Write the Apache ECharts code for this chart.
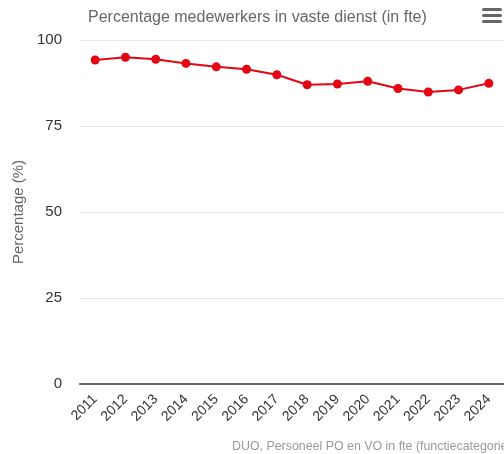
<!DOCTYPE html>
<html><head><meta charset="utf-8">
<script src="https://cdn.jsdelivr.net/npm/echarts@6/dist/echarts.min.js"></script>
<style>html,body{margin:0;padding:0;background:#fff}#c{width:504px;height:454px}</style>
</head><body><div id="c"></div>
<script>
const years = ['2011','2012','2013','2014','2015','2016','2017','2018','2019','2020','2021','2022','2023','2024'];
const values = [94.2, 95.0, 94.4, 93.2, 92.2, 91.5, 89.9, 87.0, 87.2, 88.0, 85.9, 84.9, 85.5, 87.4];
const yTicks = [0, 25, 50, 75, 100];
const chart = echarts.init(document.getElementById('c'));
const font = 'Helvetica, Arial, "Liberation Sans", sans-serif';
chart.setOption({
  animation: false,
  textStyle: {fontFamily: font},
  title: {text: 'Percentage medewerkers in vaste dienst (in fte)', left: 83, top: 5,
    textStyle: {fontSize: 16, fontWeight: 'normal', color: '#666', fontFamily: font}},
  grid: {left: 80, right: 0, top: 40, bottom: 70},
  xAxis: {type: 'category', data: years, boundaryGap: true,
    axisLine: {lineStyle: {color: '#666', width: 2}}, axisTick: {show: false},
    axisLabel: {rotate: 45, fontSize: 14, color: '#333', margin: 13, interval: 0, fontFamily: font}},
  yAxis: {type: 'value', min: 0, max: 100, interval: 25,
    name: 'Percentage (%)', nameLocation: 'middle', nameGap: 53,
    nameTextStyle: {fontSize: 15, color: '#666', fontFamily: font},
    axisLabel: {fontSize: 15, color: '#333', margin: 18, fontFamily: font,
      formatter: v => yTicks.includes(v) ? String(v) : ''},
    splitLine: {lineStyle: {color: '#e6e6e6'}}},
  series: [{type: 'line', data: values, symbol: 'circle', symbolSize: 9,
    lineStyle: {color: '#e30613', width: 2}, itemStyle: {color: '#e30613'}}],
  graphic: [
    {type: 'rect', shape: {x: 482, y: 8, width: 20, height: 3, r: 1.5}, style: {fill: '#666'}},
    {type: 'rect', shape: {x: 482, y: 14, width: 20, height: 3, r: 1.5}, style: {fill: '#666'}},
    {type: 'rect', shape: {x: 482, y: 20, width: 20, height: 3, r: 1.5}, style: {fill: '#666'}},
    {type: 'text', left: 232, top: 441, style: {text: 'DUO, Personeel PO en VO in fte (functiecategorie)', fill: '#999', fontSize: 12.4, fontFamily: font}}
  ]
});
</script></body></html>
